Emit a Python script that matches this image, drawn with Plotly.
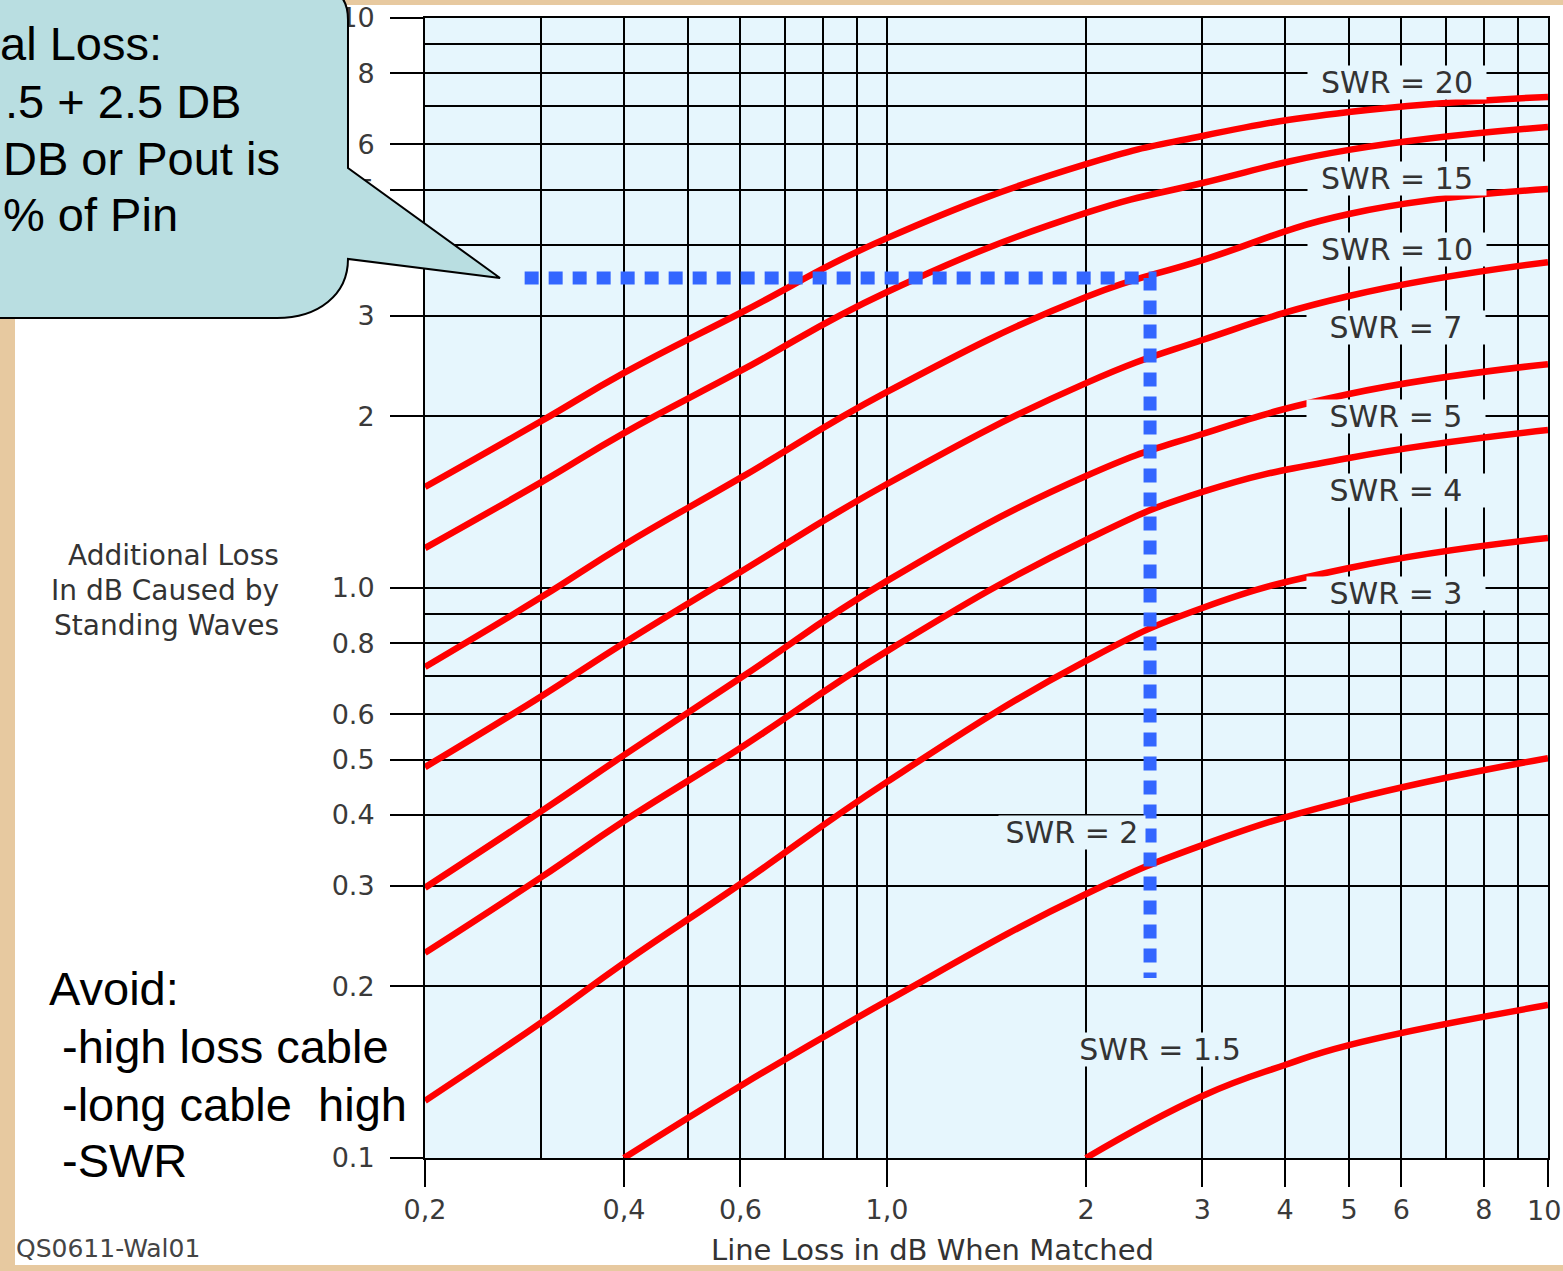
import math
import plotly.graph_objects as go

# Additional loss (dB) caused by standing waves vs. matched line loss (dB)
line_loss = [0.2, 0.3, 0.4, 0.6, 1.0, 2.0, 3.0, 5.0, 10.0]
swr_20 = [1.504, 1.963, 2.384, 3.037, 4.11, 5.54, 6.21, 6.84, 7.27]
swr_15 = [1.175, 1.534, 1.87, 2.403, 3.306, 4.55, 5.135, 5.87, 6.44]
swr_10 = [0.727, 0.964, 1.19, 1.56, 2.208, 3.24, 3.76, 4.53, 5.01]
swr_7 = [0.485, 0.646, 0.801, 1.067, 1.522, 2.288, 2.723, 3.253, 3.73]
swr_5 = [0.298, 0.406, 0.509, 0.695, 1.029, 1.572, 1.863, 2.19, 2.47]
swr_4 = [0.229, 0.311, 0.390, 0.524, 0.775, 1.214, 1.474, 1.691, 1.893]
swr_3 = [0.126, 0.173, 0.220, 0.3025, 0.457, 0.745, 0.9225, 1.084, 1.224]

line_loss_swr_2 = [0.4, 0.6, 1.0, 2.0, 3.0, 5.0, 10.0]
swr_2 = [0.100, 0.1338, 0.1886, 0.2905, 0.354, 0.4246, 0.503]

line_loss_swr_1_5 = [2.0, 3.0, 4.0, 5.0, 10.0]
swr_1_5 = [0.100, 0.1285, 0.1456, 0.1578, 0.1855]

# Worked example: 2.5 dB matched loss -> 3.5 dB extra at SWR 10
example_x = [0.283, 2.5, 2.5]
example_y = [3.5, 3.5, 0.207]

x_tick_vals = [0.2, 0.4, 0.6, 1.0, 2, 3, 4, 5, 6, 8, 10]
x_tick_text = ["0,2", "0,4", "0,6", "1,0", "2", "3", "4", "5", "6", "8", "10"]
x_minor_vals = [0.3, 0.5, 0.7, 0.8, 0.9, 7, 9]
y_tick_vals = [0.1, 0.2, 0.3, 0.4, 0.5, 0.6, 0.8, 1.0, 2, 3, 4, 5, 6, 8, 10]
y_tick_text = ["0.1", "0.2", "0.3", "0.4", "0.5", "0.6", "0.8", "1.0",
               "2", "3", "4", "5", "6", "8", "10"]
y_minor_vals = [0.7, 0.9, 7, 9]

curves = [
    ("SWR = 20", line_loss, swr_20),
    ("SWR = 15", line_loss, swr_15),
    ("SWR = 10", line_loss, swr_10),
    ("SWR = 7", line_loss, swr_7),
    ("SWR = 5", line_loss, swr_5),
    ("SWR = 4", line_loss, swr_4),
    ("SWR = 3", line_loss, swr_3),
    ("SWR = 2", line_loss_swr_2, swr_2),
    ("SWR = 1.5", line_loss_swr_1_5, swr_1_5),
]

# Figure geometry (pixels)
W, H = 1563, 1271
L, R, T, B = 425, 1548, 18, 1158


def px(x):
    return (x - L) / (R - L)


def py(y):
    return (B - y) / (B - T)


PLOT_BG = "#E6F6FD"
TAN = "#E7C9A0"
TICK_FONT = dict(family="DejaVu Sans", size=27, color="#3a3a3a")

fig = go.Figure()

for name, xs, ys in curves:
    fig.add_trace(go.Scatter(
        x=xs, y=ys, mode="lines", name=name,
        line=dict(color="#FF0000", width=6.5, shape="spline", smoothing=1.3),
        hoverinfo="skip"))

fig.add_trace(go.Scatter(
    x=example_x, y=example_y, mode="lines", name="example",
    line=dict(color="#3366FF", width=13, dash="14px,10px"),
    hoverinfo="skip"))

# The last x label sits at the right page edge, so it is placed separately
x_axis_text = x_tick_text[:-1] + [""]

fig.update_xaxes(
    type="log", range=[math.log10(0.2), 1.0],
    tickmode="array", tickvals=x_tick_vals, ticktext=x_axis_text,
    ticks="outside", ticklen=27, tickwidth=2, tickcolor="black",
    ticklabelstandoff=0, tickfont=TICK_FONT,
    showline=True, linecolor="black", linewidth=2, mirror=True,
    showgrid=True, gridcolor="black", gridwidth=2, zeroline=False,
    minor=dict(tickmode="array", tickvals=x_minor_vals, showgrid=True,
               gridcolor="black", gridwidth=2, ticks=""),
)
fig.update_yaxes(
    type="log", range=[-1.0, 1.0],
    tickmode="array", tickvals=y_tick_vals, ticktext=y_tick_text,
    ticks="outside", ticklen=33, tickwidth=2, tickcolor="black",
    ticklabelstandoff=10, tickfont=TICK_FONT, ticklabeloverflow="allow",
    showline=True, linecolor="black", linewidth=2, mirror=True,
    showgrid=True, gridcolor="black", gridwidth=2, zeroline=False,
    minor=dict(tickmode="array", tickvals=y_minor_vals, showgrid=True,
               gridcolor="black", gridwidth=2, ticks=""),
)

# Curve labels sit on plot-coloured boxes that interrupt the grid
label_spots = {
    "SWR = 20": (5.91, 7.72), "SWR = 15": (5.91, 5.22),
    "SWR = 10": (5.91, 3.93), "SWR = 7": (5.89, 2.87),
    "SWR = 5": (5.89, 2.00), "SWR = 4": (5.89, 1.48),
    "SWR = 3": (5.89, 0.98), "SWR = 2": (1.905, 0.373),
    "SWR = 1.5": (2.59, 0.155),
}
annotations = []
for name, (lx, ly) in label_spots.items():
    annotations.append(dict(
        x=math.log10(lx), y=math.log10(ly), xref="x", yref="y",
        text=name, showarrow=False, bgcolor=PLOT_BG, borderpad=0,
        width=146 if name == "SWR = 2" else 178, height=33,
        font=dict(family="DejaVu Sans", size=30, color="#333333")))

annotations.append(dict(
    x=px(1562), y=py(1210), xref="paper", yref="paper", xanchor="right",
    yanchor="middle", text=x_tick_text[-1], showarrow=False, borderpad=0,
    font=TICK_FONT))

# Axis titles
for text, yc in [("Additional Loss", 555), ("In dB Caused by", 590),
                 ("Standing Waves", 625)]:
    annotations.append(dict(
        x=px(281), y=py(yc), xref="paper", yref="paper", xanchor="right",
        yanchor="middle", text=text, showarrow=False,
        font=dict(family="DejaVu Sans", size=28, color="#333333")))
annotations.append(dict(
    x=px(932), y=py(1250), xref="paper", yref="paper", xanchor="center",
    yanchor="middle", text="Line Loss in dB When Matched", showarrow=False,
    borderpad=0, font=dict(family="DejaVu Sans", size=29, color="#333333")))
annotations.append(dict(
    x=px(14), y=py(1248), xref="paper", yref="paper", xanchor="left",
    yanchor="middle", text="QS0611-Wal01", showarrow=False,
    font=dict(family="DejaVu Sans", size=25, color="#444444")))

# Callout text
BUBBLE_FONT = dict(family="Liberation Sans", size=47, color="black")
for text, xa, anchor, yc in [("al Loss:", 163, "right", 44),
                             (".5 + 2.5 DB", 242, "right", 101),
                             ("DB or Pout is", 2, "left", 158),
                             ("% of Pin", 2, "left", 215)]:
    annotations.append(dict(
        x=px(xa), y=py(yc), xref="paper", yref="paper", xanchor=anchor,
        yanchor="middle", text=text, showarrow=False, borderpad=0,
        font=BUBBLE_FONT))

# Advice text
for text, xl, yc in [("Avoid:", 48, 988), ("-high loss cable", 61, 1046),
                     ("-long cable&nbsp; high", 61, 1104), ("-SWR", 61, 1161)]:
    annotations.append(dict(
        x=px(xl), y=py(yc), xref="paper", yref="paper", xanchor="left",
        yanchor="middle", text=text, showarrow=False, borderpad=0,
        font=BUBBLE_FONT))

# Slide border strips and the speech bubble
shapes = [
    dict(type="rect", xref="paper", yref="paper", layer="below",
         x0=px(-5), x1=px(15), y0=py(-5), y1=py(H + 5),
         fillcolor=TAN, line=dict(width=0)),
    dict(type="rect", xref="paper", yref="paper", layer="below",
         x0=px(-5), x1=px(W + 5), y0=py(-5), y1=py(5),
         fillcolor=TAN, line=dict(width=0)),
    dict(type="rect", xref="paper", yref="paper", layer="below",
         x0=px(-5), x1=px(W + 5), y0=py(1265), y1=py(H + 5),
         fillcolor=TAN, line=dict(width=0)),
]

bubble_pts = [
    ("M", [(-20, 318)]),
    ("L", [(277, 318)]),
    ("C", [(318, 318), (348, 295), (348, 259)]),
    ("L", [(500, 278)]),
    ("L", [(348, 168)]),
    ("L", [(348, 20)]),
    ("Q", [(348, -12), (318, -12)]),
    ("L", [(-20, -12)]),
]
path = ""
for cmd, pts in bubble_pts:
    path += cmd + " " + " ".join(f"{px(a):.5f},{py(b):.5f}" for a, b in pts) + " "
path += "Z"
shapes.append(dict(type="path", xref="paper", yref="paper", layer="above",
                   path=path, fillcolor="#B9DEE1",
                   line=dict(color="black", width=2)))

fig.update_layout(
    width=W, height=H,
    margin=dict(l=L, r=W - R, t=T, b=H - B, autoexpand=False),
    paper_bgcolor="white", plot_bgcolor=PLOT_BG,
    showlegend=False, annotations=annotations, shapes=shapes,
)

fig.write_html("out.html")
